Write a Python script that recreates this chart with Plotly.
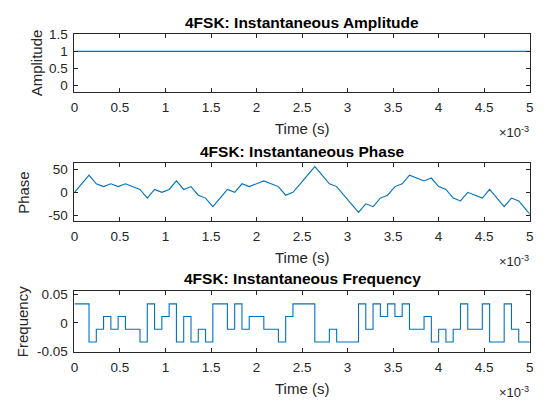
import plotly.graph_objects as go

# ---- data ----
symbol_period = 8e-5  # s
n_points = 64
time_s = [i * symbol_period for i in range(n_points)]

amplitude = [1.0] * n_points

phase = [0.0, 18.8, 37.7, 18.8, 12.6, 18.8, 12.6, 18.8, 12.6, 6.3,
         -12.6, 6.3, 0.0, 6.3, 25.1, 6.3, 12.6, -6.3, -12.6, -31.4,
         -12.6, 6.3, 0.0, 18.8, 12.6, 18.8, 25.1, 18.8, 12.6, -6.3,
         0.0, 18.8, 37.7, 56.5, 37.7, 18.8, 12.6, -6.3, -25.1, -44.0,
         -25.1, -31.4, -12.6, -6.3, 12.6, 18.8, 37.7, 31.4, 25.1, 31.4,
         12.6, 6.3, -12.6, -18.8, 0.0, -6.3, -12.6, 6.3, -12.6, -31.4,
         -12.6, -18.8, -37.7, -56.5]

frequency = [0.0333, 0.0333, -0.0333, -0.0111, 0.0111, -0.0111, 0.0111, -0.0111, -0.0111, -0.0333,
             0.0333, -0.0111, 0.0111, 0.0333, -0.0333, 0.0111, -0.0333, -0.0111, -0.0333, 0.0333,
             0.0333, -0.0111, 0.0333, -0.0111, 0.0111, 0.0111, -0.0111, -0.0111, -0.0333, 0.0111,
             0.0333, 0.0333, 0.0333, -0.0333, -0.0333, -0.0111, -0.0333, -0.0333, -0.0333, 0.0333,
             -0.0111, 0.0333, 0.0111, 0.0333, 0.0111, 0.0333, -0.0111, -0.0111, 0.0111, -0.0333,
             -0.0111, -0.0333, -0.0111, 0.0333, -0.0111, -0.0111, 0.0333, -0.0333, -0.0333, 0.0333,
             -0.0111, -0.0333, -0.0333, -0.0333]

x_tick_vals = [0, 0.0005, 0.001, 0.0015, 0.002, 0.0025, 0.003, 0.0035, 0.004, 0.0045, 0.005]
x_tick_text = ["0", "0.5", "1", "1.5", "2", "2.5", "3", "3.5", "4", "4.5", "5"]

titles = ["4FSK: Instantaneous Amplitude", "4FSK: Instantaneous Phase", "4FSK: Instantaneous Frequency"]
y_labels = ["Amplitude", "Phase", "Frequency"]

# ---- styling ----
W, H = 545, 408
LINE = "#0072BD"
AX = "#262626"
FONT = "Liberation Sans, Arial, sans-serif"

left, right = 71.5, 533.5
panels = [(28.3, 88.3), (161.7, 221.7), (294, 357.3)]
y_ranges = [[-0.2, 1.5], [-63, 64], [-0.051, 0.056]]
y_ticks = [([0, 0.5, 1, 1.5], ["0", "0.5", "1", "1.5"]),
           ([-50, 0, 50], ["-50", "0", "50"]),
           ([-0.05, 0, 0.05], ["-0.05", "0", "0.05"])]
series = [amplitude, phase, frequency]
shapes = ["linear", "linear", "hv"]

fig = go.Figure()
layout = dict(width=W, height=H, margin=dict(l=0, r=0, t=0, b=0),
              paper_bgcolor="white", plot_bgcolor="white", showlegend=False,
              font=dict(family=FONT, size=13, color=AX))
annotations = []
for i in range(3):
    top, bot = panels[i]
    xa = "xaxis" if i == 0 else f"xaxis{i+1}"
    ya = "yaxis" if i == 0 else f"yaxis{i+1}"
    xr = "x" if i == 0 else f"x{i+1}"
    yr = "y" if i == 0 else f"y{i+1}"
    fig.add_trace(go.Scatter(x=time_s, y=series[i], mode="lines",
                             line=dict(color=LINE, width=1.1, shape=shapes[i]),
                             xaxis=xr, yaxis=yr, hoverinfo="skip"))
    common = dict(showline=True, linecolor=AX, linewidth=1, mirror="ticks",
                  ticks="inside", ticklen=4, tickcolor=AX, tickwidth=1,
                  showgrid=False, zeroline=False,
                  tickfont=dict(family=FONT, size=13.5, color=AX))
    layout[xa] = dict(domain=[left / W, right / W], range=[0, 0.005],
                      tickvals=x_tick_vals, ticktext=x_tick_text,
                      ticklabelstandoff=3, anchor=yr, **common)
    layout[ya] = dict(domain=[1 - bot / H, 1 - top / H], range=y_ranges[i],
                      tickvals=y_ticks[i][0], ticktext=y_ticks[i][1],
                      ticklabelstandoff=3, anchor=xr, **common)
    cx = (left + right) / 2 / W
    annotations.append(dict(text=f"<b>{titles[i]}</b>", x=cx, y=1 - (top - 12.5) / H,
                            xref="paper", yref="paper", showarrow=False,
                            xanchor="center", yanchor="middle",
                            font=dict(family=FONT, size=15.5, color="black")))
    annotations.append(dict(text="Time (s)", x=cx, y=1 - (bot + 38) / H,
                            xref="paper", yref="paper", showarrow=False,
                            xanchor="center", yanchor="middle",
                            font=dict(family=FONT, size=15, color=AX)))
    annotations.append(dict(text="\u00d710<sup>-3</sup>", x=(right + 1) / W, y=1 - (bot + 41) / H,
                            xref="paper", yref="paper", showarrow=False,
                            xanchor="right", yanchor="middle",
                            font=dict(family=FONT, size=13, color=AX)))
    ylx = [32.5, 19, 19][i]
    annotations.append(dict(text=y_labels[i], x=ylx / W, y=1 - (top + bot) / 2 / H,
                            xref="paper", yref="paper", showarrow=False, textangle=-90,
                            xanchor="center", yanchor="middle",
                            font=dict(family=FONT, size=15, color=AX)))
layout["annotations"] = annotations
fig.update_layout(**layout)
fig.write_html("out.html")
